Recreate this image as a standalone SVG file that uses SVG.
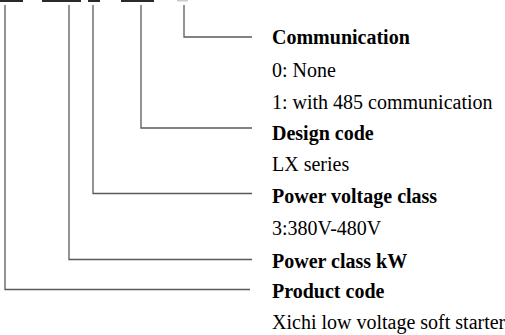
<svg xmlns="http://www.w3.org/2000/svg" width="505" height="335" viewBox="0 0 505 335">
<style>
.c{fill:none;stroke:#5a5a5a;stroke-width:1.3}
.b{font-family:"Liberation Serif",serif;font-size:20px;font-weight:bold;fill:#000}
.n{font-family:"Liberation Serif",serif;font-size:20px;fill:#000}
.bar{fill:#2a2a2a}
</style>
<rect width="505" height="335" fill="#fff"/>
<g id="code-bars">
<rect class="bar" x="0" y="0" width="23" height="2"/>
<rect class="bar" x="42" y="0" width="39" height="2"/>
<rect class="bar" x="88" y="0" width="12" height="2"/>
<rect class="bar" x="121" y="0" width="33" height="2"/>
<rect x="177" y="0" width="11" height="1.5" fill="#ccc"/>
</g>
<g id="connectors">
<polyline class="c" points="184,5 184,37 252,37"/>
<polyline class="c" points="141,5 141,128 252,128"/>
<polyline class="c" points="93,5 93,193.5 252,193.5"/>
<polyline class="c" points="69,5 69,259.5 252,259.5"/>
<polyline class="c" points="5,5 5,289.5 250,289.5"/>
</g>
<g id="communication">
<text class="b" x="272" y="44">Communication</text>
<text class="n" x="272" y="77">0: None</text>
<text class="n" x="272" y="109">1: with 485 communication</text>
</g>
<g id="design-code">
<text class="b" x="272" y="140">Design code</text>
<text class="n" x="272" y="171">LX series</text>
</g>
<g id="power-voltage">
<text class="b" x="272" y="203">Power voltage class</text>
<text class="n" x="272" y="235">3:380V-480V</text>
</g>
<g id="power-class">
<text class="b" x="272" y="268">Power class kW</text>
</g>
<g id="product-code">
<text class="b" x="272" y="298">Product code</text>
<text class="n" x="272" y="329">Xichi low voltage soft starter</text>
</g>
</svg>
